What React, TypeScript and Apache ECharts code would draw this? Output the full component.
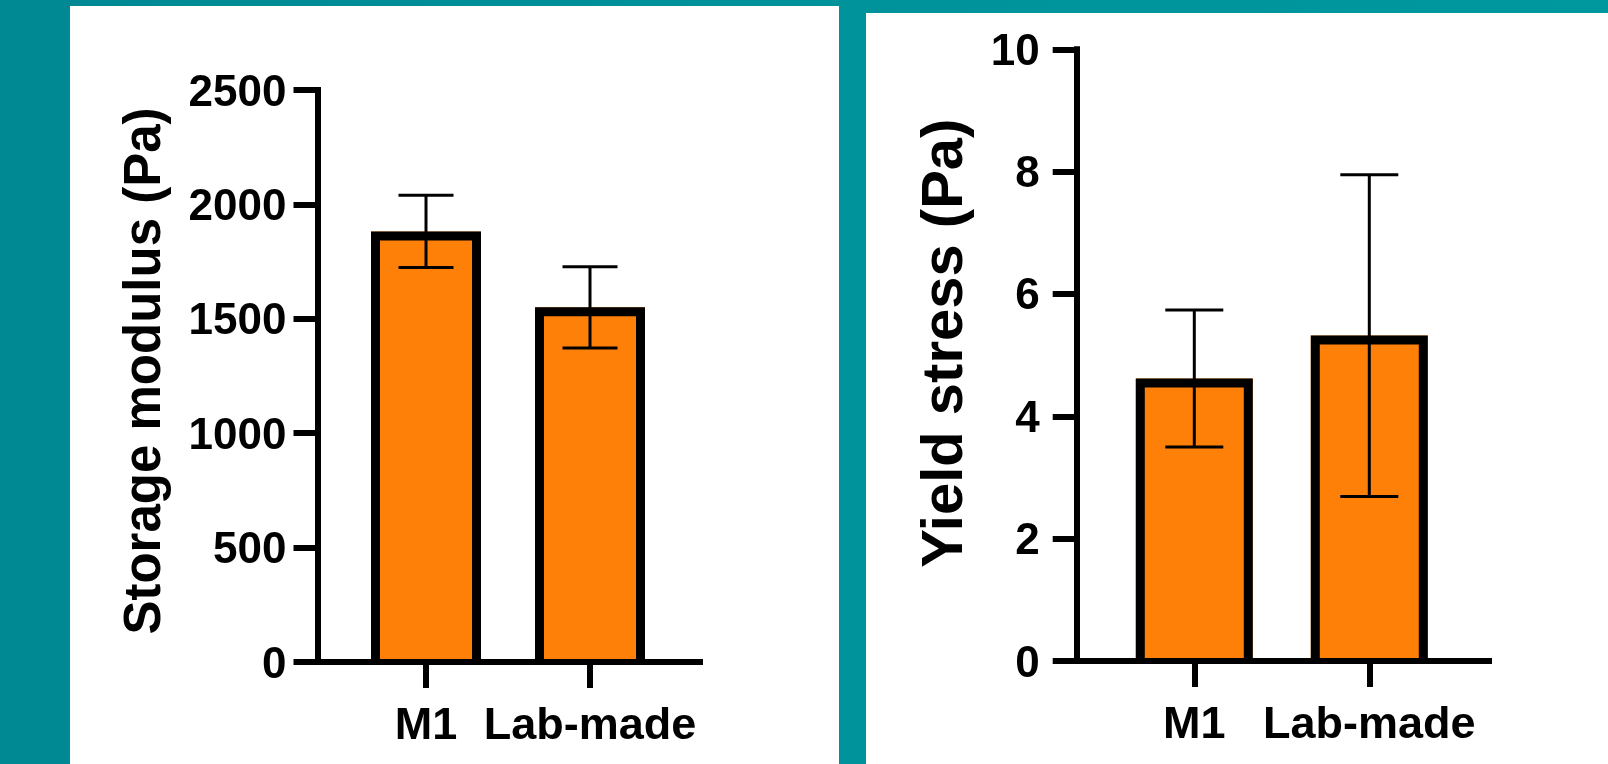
import React, { useEffect, useRef } from "react";
import * as echarts from "echarts";

const categories = ["M1", "Lab-made"];
const storageMean = [1882, 1550];
const storageSD = [158, 178];
const storageTicks = [0, 500, 1000, 1500, 2000, 2500];
const yieldMean = [4.62, 5.32];
const yieldSD = [1.12, 2.63];
const yieldTicks = [0, 2, 4, 6, 8, 10];

const FONT = "'Liberation Sans', Arial, Helvetica, sans-serif";
const ORANGE = "#FE8008";
const BORDER = 9;

// outline (3 sides) + error bar, drawn through the axes' coordinate system
function overlaySeries(xi: number, means: number[], sds: number[], barW: number, cap: number) {
  return {
    type: "custom",
    xAxisIndex: xi,
    yAxisIndex: xi,
    z: 10,
    silent: true,
    encode: { x: 0, y: 1 },
    data: means.map((m, i) => [i, m, sds[i]]),
    renderItem: (_params: any, api: any) => {
      const x = api.value(0);
      const m = api.value(1);
      const s = api.value(2);
      const topPt = api.coord([x, m]);
      const basePt = api.coord([x, 0]);
      const eTop = api.coord([x, m + s]);
      const eBot = api.coord([x, m - s]);
      const h = BORDER / 2;
      const xl = topPt[0] - barW / 2 + h;
      const xr = topPt[0] + barW / 2 - h;
      const yt = topPt[1] + h;
      const st = { stroke: "#000", lineWidth: 3 };
      return {
        type: "group",
        children: [
          {
            type: "polyline",
            shape: { points: [[xl, basePt[1]], [xl, yt], [xr, yt], [xr, basePt[1]]] },
            style: { stroke: "#000", lineWidth: BORDER, fill: null, lineJoin: "miter" },
          },
          { type: "line", shape: { x1: eTop[0], y1: eTop[1], x2: eBot[0], y2: eBot[1] }, style: st },
          { type: "line", shape: { x1: eTop[0] - cap / 2, y1: eTop[1], x2: eTop[0] + cap / 2, y2: eTop[1] }, style: st },
          { type: "line", shape: { x1: eBot[0] - cap / 2, y1: eBot[1], x2: eBot[0] + cap / 2, y2: eBot[1] }, style: st },
        ],
      };
    },
  };
}

function xAxisCfg(gi: number, min: number, max: number, labelMargin: number) {
  return {
    type: "value",
    gridIndex: gi,
    min,
    max,
    z: 12,
    splitLine: { show: false },
    axisLine: { show: true, onZero: false, lineStyle: { color: "#000", width: 6, cap: "square" } },
    axisTick: { show: true, length: 26, lineStyle: { color: "#000", width: 6 }, customValues: [0, 1] },
    axisLabel: {
      show: true,
      customValues: [0, 1],
      formatter: (v: number) => categories[Math.round(v)] ?? "",
      color: "#000",
      fontFamily: FONT,
      fontWeight: "bold",
      fontSize: 45,
      margin: labelMargin,
    },
  };
}

function yAxisCfg(gi: number, ticks: number[], name: string, nameSize: number, nameGap: number, namePad: number, labelSize: number, labelMargin: number) {
  return {
    type: "value",
    gridIndex: gi,
    min: ticks[0],
    max: ticks[ticks.length - 1],
    interval: ticks[1] - ticks[0],
    name,
    nameLocation: "middle",
    nameGap,
    z: 12,
    nameTextStyle: { color: "#000", fontFamily: FONT, fontWeight: "bold", fontSize: nameSize, padding: [0, 0, 0, namePad] },
    splitLine: { show: false },
    axisLine: { show: true, onZero: false, lineStyle: { color: "#000", width: 6, cap: "square" } },
    axisTick: { show: true, length: 24, lineStyle: { color: "#000", width: 6 } },
    axisLabel: {
      color: "#000",
      fontFamily: FONT,
      fontWeight: "bold",
      fontSize: labelSize,
      margin: labelMargin,
      formatter: (v: number) => String(v),
    },
  };
}

export default function App() {
  const ref = useRef<HTMLDivElement>(null);
  useEffect(() => {
    if (!ref.current) return;
    const chart = echarts.init(ref.current, undefined, { renderer: "svg" });
    const option: any = {
      animation: false,
      graphic: [
        {
          type: "rect",
          z: -10,
          silent: true,
          shape: { x: 0, y: 0, width: 1608, height: 764 },
          style: {
            fill: new echarts.graphic.LinearGradient(0, 0, 1, 0, [
              { offset: 0, color: "#008893" },
              { offset: 0.5, color: "#00929B" },
              { offset: 1, color: "#00989F" },
            ]),
          },
        },
        { type: "rect", z: -9, silent: true, shape: { x: 70, y: 6, width: 769, height: 758 }, style: { fill: "#fff" } },
        { type: "rect", z: -9, silent: true, shape: { x: 866, y: 13, width: 742, height: 751 }, style: { fill: "#fff" } },
      ],
      grid: [
        { left: 317.5, top: 90, width: 382.5, height: 572 },
        { left: 1076.7, top: 49.3, width: 412.3, height: 611.7 },
      ],
      xAxis: [
        xAxisCfg(0, -0.6616, 1.6707, 39),
        xAxisCfg(1, -0.672, 1.684, 39),
      ],
      yAxis: [
        yAxisCfg(0, storageTicks, "Storage modulus (Pa)", 51, 150, 10, 44, 31),
        yAxisCfg(1, yieldTicks, "Yield stress (Pa)", 58, 106, 24, 44, 37),
      ],
      series: [
        {
          type: "bar",
          xAxisIndex: 0,
          yAxisIndex: 0,
          barWidth: 110,
          z: 2,
          data: storageMean.map((v, i) => [i, v]),
          itemStyle: { color: ORANGE },
        },
        overlaySeries(0, storageMean, storageSD, 110, 55),
        {
          type: "bar",
          xAxisIndex: 1,
          yAxisIndex: 1,
          barWidth: 117,
          z: 2,
          data: yieldMean.map((v, i) => [i, v]),
          itemStyle: { color: ORANGE },
        },
        overlaySeries(1, yieldMean, yieldSD, 117, 58),
      ],
    };
    chart.setOption(option);
    return () => chart.dispose();
  }, []);
  return <div ref={ref} style={{ position: "fixed", left: 0, top: 0, width: 1608, height: 764 }} />;
}
